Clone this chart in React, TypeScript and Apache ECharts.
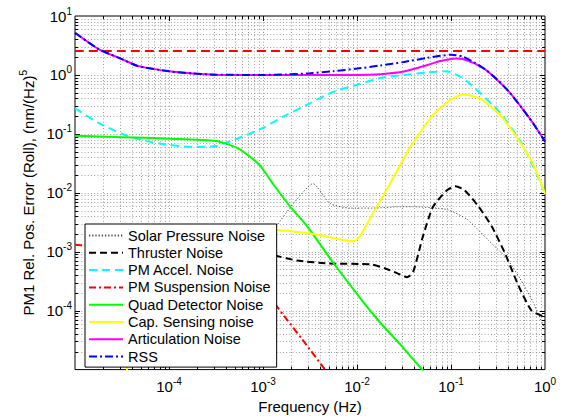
import React, { useEffect, useRef } from "react";
import * as echarts from "echarts";

// ---- data (frequency in Hz, error in nm/(Hz)^.5); null = hidden behind legend ----
const solarFreq = [1.25e-3, 1.34e-3, 2.19e-3, 3.4e-3, 5.16e-3, 8.4e-3, 1.48e-2, 2.86e-2, 3.94e-2, 9.06e-2, 0.148, 0.242, 0.394, 0.542, 0.745, 1];
const solarVal = [2.2e-3, 2.54e-3, 7.1e-3, 1.43e-2, 6.6e-3, 5.5e-3, 5.5e-3, 5.8e-3, 5.8e-3, 5.2e-3, 3.55e-3, 1.65e-3, 7.6e-4, 3.5e-4, 1.41e-4, 4.8e-5];

const thrusterFreq = [8e-5, 8.6e-5, 9.2e-5, 5e-4, 1.34e-3, 2.3e-3, 5.1e-3, 1.4e-2, 2.0e-2, 2.7e-2, 3.4e-2, 3.95e-2, 5.04e-2, 6.44e-2, 9.06e-2, 0.111, 0.14, 0.197, 0.271, 0.372, 0.52, 0.72, 1];
const thrusterVal = [3e-6, 1e-5, 3e-5, null, 8.6e-4, 7.1e-4, 6.3e-4, 6.1e-4, 5.2e-4, 4.3e-4, 3.7e-4, 4.5e-4, 1.85e-3, 5.8e-3, 0.011, 0.0129, 0.011, 5.8e-3, 2.7e-3, 9.7e-4, 2.7e-4, 1.0e-4, 7.8e-5];

const accelFreq = [1e-5, 1.78e-5, 3.16e-5, 5.62e-5, 1e-4, 1.78e-4, 3.16e-4, 5.62e-4, 1e-3, 1.78e-3, 3.16e-3, 5.62e-3, 1e-2, 1.78e-2, 3.16e-2, 5.62e-2, 8.7e-2, 0.1, 0.133, 0.178, 0.316, 0.562, 0.75, 1];
const accelVal = [0.271, 0.153, 0.1, 0.076, 0.065, 0.06, 0.062, 0.086, 0.126, 0.21, 0.33, 0.52, 0.68, 0.89, 1.0, 1.1, 1.15, 1.1, 0.89, 0.6, 0.25, 0.07, 0.028, 0.0098];

const suspFreq = [1e-5, 1.3e-5, 1e-4, 1.34e-3, 1.78e-3, 2.6e-3, 4.8e-3, 1e-2];
const suspVal = [1.31e-3, 1.27e-3, null, 1.3e-4, 7.2e-5, 3.3e-5, 9e-6, 2e-6];

const quadFreq = [1e-5, 3.16e-5, 1e-4, 3.16e-4, 5.28e-4, 7.28e-4, 9.3e-4, 1.28e-3, 1.94e-3, 2.94e-3, 5.56e-3, 1.16e-2, 1.76e-2, 2.86e-2, 5.04e-2, 0.1];
const quadVal = [0.093, 0.088, 0.083, 0.076, 0.058, 0.041, 0.029, 0.0141, 0.00585, 0.00271, 6.56e-4, 1.41e-4, 6.3e-5, 2.71e-5, 9.6e-6, 2.7e-6];

const capFreq = [3.2e-5, 3.57e-5, 3.8e-5, 1e-4, 1.34e-3, 3.4e-3, 7.8e-3, 9.1e-3, 1.08e-2, 1.48e-2, 2.24e-2, 3.66e-2, 6.44e-2, 9.75e-2, 0.134, 0.204, 0.332, 0.504, 0.745, 1];
const capVal = [2e-6, 1e-5, 3e-5, null, 2.35e-3, 2.0e-3, 1.53e-3, 1.5e-3, 1.85e-3, 4.52e-3, 0.0143, 0.0584, 0.21, 0.373, 0.464, 0.398, 0.21, 0.0858, 0.0308, 0.0096];

const artFreq = [1e-5, 1.78e-5, 3.16e-5, 4.57e-5, 5.62e-5, 1e-4, 1.78e-4, 3.16e-4, 1e-3, 3.16e-3, 1e-2, 1.78e-2, 3.16e-2, 5.62e-2, 7.5e-2, 0.1, 0.115, 0.133, 0.178, 0.237, 0.316, 0.422, 0.562, 0.75, 1];
const artVal = [5.2, 2.75, 1.85, 1.43, 1.33, 1.15, 1.06, 1.01, 1.0, 1.0, 1.0, 1.03, 1.14, 1.47, 1.71, 1.87, 1.9, 1.87, 1.57, 1.2, 0.8, 0.5, 0.28, 0.15, 0.074];

const rssFreq = [1e-5, 1.78e-5, 3.16e-5, 4.57e-5, 5.62e-5, 1e-4, 1.78e-4, 3.16e-4, 1e-3, 1.78e-3, 3.16e-3, 5.62e-3, 1e-2, 1.78e-2, 3.16e-2, 5.62e-2, 0.1, 0.133, 0.178, 0.237, 0.316, 0.422, 0.562, 0.75, 1];
const rssVal = [5.2, 2.75, 1.85, 1.43, 1.33, 1.15, 1.06, 1.01, 1.0, 1.02, 1.07, 1.16, 1.28, 1.45, 1.66, 1.95, 2.2, 2.05, 1.62, 1.21, 0.81, 0.5, 0.28, 0.15, 0.074];

const reqFreq = [1e-5, 1];
const reqVal = [2.54, 2.54];

const legendNames = [
  "Solar Pressure Noise",
  "Thruster Noise",
  "PM Accel. Noise",
  "PM Suspension Noise",
  "Quad Detector Noise",
  "Cap. Sensing noise",
  "Articulation Noise",
  "RSS",
];

const X_MIN = 1e-5;
const X_MAX = 1;
const Y_MIN = 1e-5;
const Y_MAX = 10;
const X_DECADES = [-5, -4, -3, -2, -1];
const Y_DECADES = [-5, -4, -3, -2, -1, 0];
const MULTS = [1, 2, 3, 4, 5, 6, 7, 8, 9];

const FONT = '"Liberation Sans", Arial, Helvetica, sans-serif';

const pairs = (f: number[], v: (number | null)[]) => f.map((x, i) => [x, v[i] == null ? "-" : v[i]]);

function buildGridData() {
  const d: number[][] = [];
  for (const e of X_DECADES)
    for (const m of MULTS) d.push([m * Math.pow(10, e), 1, 0, m === 1 ? 1 : 0]);
  d.push([X_MAX, 1, 0, 1]);
  for (const e of Y_DECADES)
    for (const m of MULTS) d.push([1e-2, m * Math.pow(10, e), 1, m === 1 ? 1 : 0]);
  d.push([1e-2, Y_MAX, 1, 1]);
  return d;
}

const expLabel = (v: number) => {
  const e = Math.round(Math.log10(v));
  return `{b|10}{s|${e}}`;
};

const labelRich = {
  b: { fontSize: 15, lineHeight: 20, fontFamily: FONT, color: "#000" },
  s: { fontSize: 10, lineHeight: 10, verticalAlign: "top", fontFamily: FONT, color: "#000" },
};

export default function App() {
  const ref = useRef<HTMLDivElement>(null);
  useEffect(() => {
    if (!ref.current) return;
    const chart = echarts.init(ref.current, undefined, { renderer: "svg" });

    const line = (name: string, f: number[], v: (number | null)[], color: string, width: number, dash: any, z: number) => ({
      name,
      type: "line",
      data: pairs(f, v),
      symbol: "none",
      smooth: 0.2,
      connectNulls: false,
      clip: true,
      silent: true,
      z,
      lineStyle: { color, width, type: dash },
      itemStyle: { color },
    });

    const option: any = {
      animation: false,
      backgroundColor: "#fff",
      grid: {
        left: 75,
        right: 20,
        top: 16,
        bottom: 43,
        show: true,
        borderColor: "#000",
        borderWidth: 1,
        backgroundColor: "#fff",
      },
      legend: {
        data: legendNames,
        orient: "vertical",
        left: 85,
        top: 224,
        itemWidth: 34,
        itemHeight: 14,
        itemGap: 2.3,
        padding: [4, 6, 3, 3],
        backgroundColor: "#fff",
        borderColor: "#000",
        borderWidth: 1,
        borderRadius: 0,
        selectedMode: false,
        itemStyle: { color: "rgba(0,0,0,0)", borderColor: "rgba(0,0,0,0)", borderWidth: 0, opacity: 0 },
        textStyle: { fontSize: 14.5, color: "#000", fontFamily: FONT },
        z: 50,
      },
      xAxis: {
        type: "log",
        logBase: 10,
        min: X_MIN,
        max: X_MAX,
        interval: 1,
        name: "Frequency (Hz)",
        nameLocation: "middle",
        nameGap: 27,
        nameTextStyle: { fontSize: 15, color: "#000", fontFamily: FONT, verticalAlign: "top" },
        axisLine: { show: false },
        axisTick: { show: false },
        splitLine: { show: false },
        minorSplitLine: { show: false },
        axisLabel: { showMinLabel: false, margin: 7, formatter: expLabel, rich: labelRich },
      },
      yAxis: {
        type: "log",
        logBase: 10,
        min: Y_MIN,
        max: Y_MAX,
        interval: 1,
        name: "{a|PM1 Rel. Pos. Error (Roll), (nm/(Hz)}{s|5}",
        nameLocation: "middle",
        nameGap: 33,
        nameRotate: 90,
        nameTextStyle: {
          rich: {
            a: { fontSize: 15, lineHeight: 20, fontFamily: FONT, color: "#000" },
            s: { fontSize: 10, lineHeight: 10, verticalAlign: "top", fontFamily: FONT, color: "#000" },
          },
        },
        axisLine: { show: false },
        axisTick: { show: false },
        splitLine: { show: false },
        axisLabel: { showMinLabel: false, margin: 3, formatter: expLabel, rich: labelRich },
      },
      series: [
        {
          name: "_grid",
          type: "custom",
          silent: true,
          z: 1,
          data: buildGridData(),
          encode: { x: 0, y: 1 },
          renderItem: (params: any, api: any) => {
            const cs = params.coordSys;
            const dir = api.value(2);
            const major = api.value(3) === 1;
            const len = major ? 5 : 3;
            const dotted = { stroke: "#777", lineWidth: 0.7, lineDash: [1, 2.2] };
            const tick = { stroke: "#000", lineWidth: 1 };
            const children: any[] = [];
            if (dir === 0) {
              const px = Math.round(api.coord([api.value(0), 1])[0]) + 0.5;
              const top = cs.y;
              const bot = cs.y + cs.height;
              if (px > cs.x + 1.5 && px < cs.x + cs.width - 1.5) {
                children.push({ type: "line", shape: { x1: px, y1: top, x2: px, y2: bot }, style: dotted });
                children.push({ type: "line", shape: { x1: px, y1: bot, x2: px, y2: bot - len }, style: tick });
                children.push({ type: "line", shape: { x1: px, y1: top, x2: px, y2: top + len }, style: tick });
              }
            } else {
              const py = Math.round(api.coord([1e-2, api.value(1)])[1]) + 0.5;
              const left = cs.x;
              const right = cs.x + cs.width;
              if (py > cs.y + 1.5 && py < cs.y + cs.height - 1.5) {
                children.push({ type: "line", shape: { x1: left, y1: py, x2: right, y2: py }, style: dotted });
                children.push({ type: "line", shape: { x1: left, y1: py, x2: left + len, y2: py }, style: tick });
                children.push({ type: "line", shape: { x1: right, y1: py, x2: right - len, y2: py }, style: tick });
              }
            }
            return { type: "group", children };
          },
        },
        line("Requirement", reqFreq, reqVal, "#ff0000", 2, [9, 5], 2),
        line(legendNames[0], solarFreq, solarVal, "#444", 1, [1.2, 2], 3),
        line(legendNames[1], thrusterFreq, thrusterVal, "#000", 2, [7, 4], 3),
        line(legendNames[2], accelFreq, accelVal, "#00ffff", 2, [8, 5], 3),
        line(legendNames[3], suspFreq, suspVal, "#ff0000", 2, [7, 3, 2, 3], 3),
        line(legendNames[4], quadFreq, quadVal, "#00ff00", 2, "solid", 3),
        line(legendNames[5], capFreq, capVal, "#ffff00", 2, "solid", 3),
        line(legendNames[6], artFreq, artVal, "#ff00ff", 2, "solid", 4),
        line(legendNames[7], rssFreq, rssVal, "#0000ff", 2, [8, 3, 2, 3], 5),
      ],
    };
    chart.setOption(option);
    return () => chart.dispose();
  }, []);
  return <div ref={ref} style={{ position: "fixed", left: 0, top: 0, width: 565, height: 419 }} />;
}
